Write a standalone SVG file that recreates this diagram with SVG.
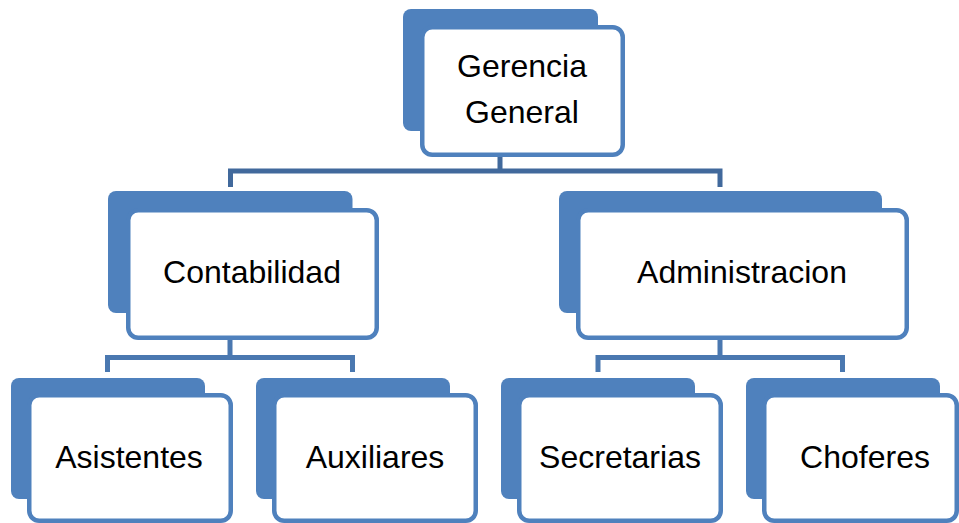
<svg xmlns="http://www.w3.org/2000/svg" width="959" height="523" viewBox="0 0 959 523">
<style>
.back{fill:#4F81BD;}
.front{fill:#FFFFFF;stroke:#4F81BD;stroke-width:4.5;}
.lbl{font-family:"Liberation Sans",Arial,sans-serif;font-size:32px;fill:#000000;text-anchor:middle;}
.c1{fill:none;stroke:#41699C;stroke-width:5;}
.c2{fill:none;stroke:#4A78B0;stroke-width:5;}
</style>
<rect width="959" height="523" fill="#FFFFFF"/>
<g id="connectors">
<path class="c1" d="M500,157 V171 M230.5,187 V171 H720 V187"/>
<path class="c2" d="M230,340 V357.5 M107.5,372 V357.5 H352.5 V372"/>
<path class="c2" d="M720,340 V357.5 M598,372 V357.5 H842.5 V372"/>
</g>
<g id="gerencia">
<rect class="back" x="403" y="9" width="195" height="122" rx="8"/>
<rect class="front" x="422.25" y="27.25" width="200.5" height="127.5" rx="10"/>
<text class="lbl" x="522" y="77">Gerencia</text>
<text class="lbl" x="522" y="123">General</text>
</g>
<g id="contabilidad">
<rect class="back" x="108" y="191" width="244.5" height="122" rx="8"/>
<rect class="front" x="128.25" y="210.25" width="248.5" height="127.5" rx="10"/>
<text class="lbl" x="252" y="283">Contabilidad</text>
</g>
<g id="administracion">
<rect class="back" x="559" y="191" width="323" height="122" rx="8"/>
<rect class="front" x="578.25" y="210.25" width="328.5" height="127.5" rx="10"/>
<text class="lbl" x="742" y="283">Administracion</text>
</g>
<g id="asistentes">
<rect class="back" x="11" y="378" width="194" height="121" rx="8"/>
<rect class="front" x="29.25" y="395.25" width="201.5" height="125.5" rx="10"/>
<text class="lbl" x="129" y="468">Asistentes</text>
</g>
<g id="auxiliares">
<rect class="back" x="256" y="378" width="194" height="121" rx="8"/>
<rect class="front" x="274.25" y="395.25" width="201.5" height="125.5" rx="10"/>
<text class="lbl" x="375" y="468">Auxiliares</text>
</g>
<g id="secretarias">
<rect class="back" x="501" y="378" width="194" height="121" rx="8"/>
<rect class="front" x="519.25" y="395.25" width="201.5" height="125.5" rx="10"/>
<text class="lbl" x="620" y="468">Secretarias</text>
</g>
<g id="choferes">
<rect class="back" x="746" y="378" width="194" height="121" rx="8"/>
<rect class="front" x="764.25" y="395.25" width="192.5" height="125.5" rx="10"/>
<text class="lbl" x="865" y="468">Choferes</text>
</g>
</svg>
